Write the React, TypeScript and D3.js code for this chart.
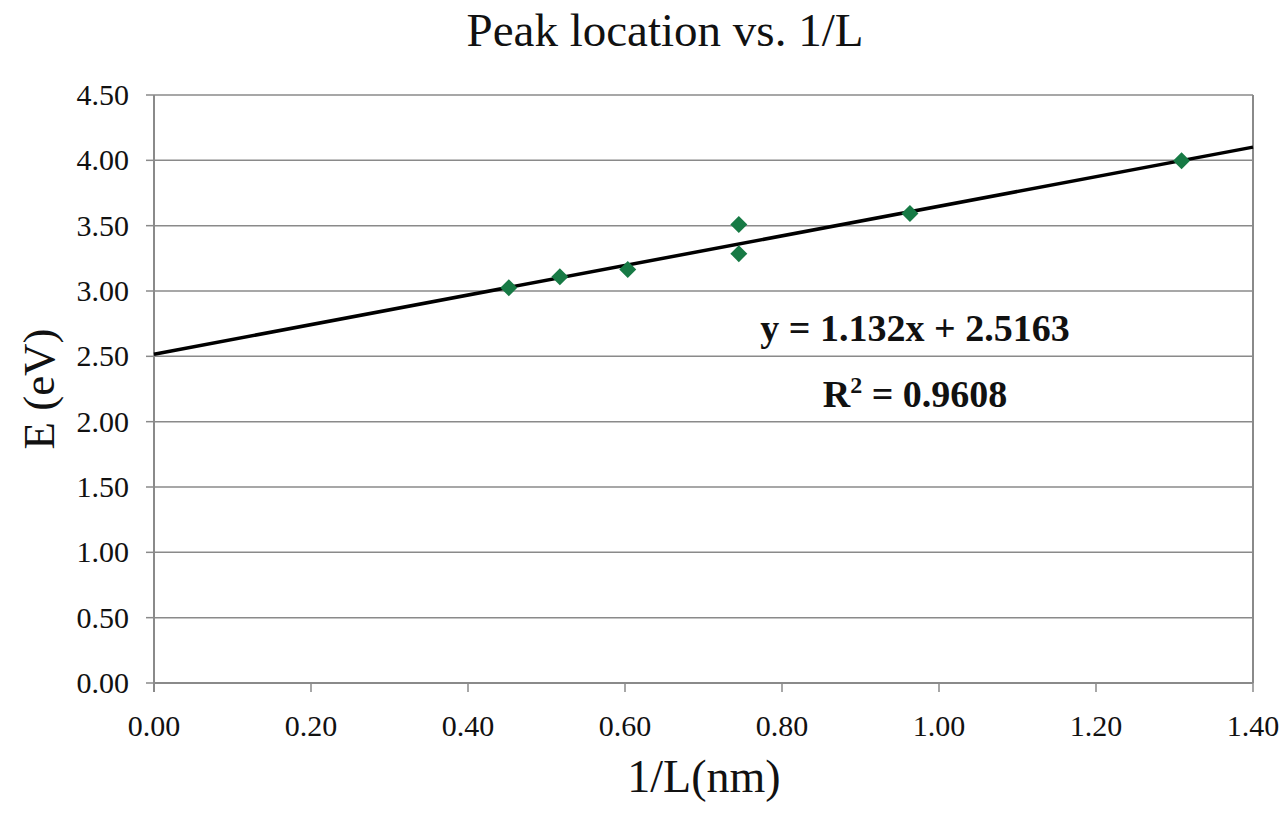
import React from "react";
import * as d3 from "d3";

const xValues = [0.452, 0.517, 0.6035, 0.745, 0.745, 0.963, 1.309];
const yValues = [3.025, 3.109, 3.165, 3.508, 3.286, 3.594, 3.997];
const xTicks = [0, 0.2, 0.4, 0.6, 0.8, 1.0, 1.2, 1.4];
const yTicks = [0, 0.5, 1.0, 1.5, 2.0, 2.5, 3.0, 3.5, 4.0, 4.5];
const slope = 1.132;
const intercept = 2.5163;
const title = "Peak location vs. 1/L";
const xTitle = "1/L(nm)";
const yTitle = "E (eV)";
const eqText = "y = 1.132x + 2.5163";
const r2Value = "0.9608";

const W = 1286;
const H = 816;
const left = 154;
const right = 1253;
const top = 95;
const bottom = 683;
const font = "'Liberation Serif', 'Times New Roman', serif";

export default function App() {
  const x = d3.scaleLinear().domain([0, 1.4]).range([left, right]);
  const y = d3.scaleLinear().domain([0, 4.5]).range([bottom, top]);
  const line = d3
    .line<number>()
    .x((d) => x(d))
    .y((d) => y(slope * d + intercept));
  const r = 8.5;
  const diamond = `M0,${-r}L${r},0L0,${r}L${-r},0Z`;
  const pts = xValues.map((v, i) => [v, yValues[i]]);

  return (
    <svg
      width={W}
      height={H}
      style={{ position: "absolute", left: 0, top: 0, background: "#fff" }}
    >
      <rect x={0} y={0} width={W} height={H} fill="#fff" />
      <text x={665} y={46} textAnchor="middle" fontFamily={font} fontSize={47} fill="#111">
        {title}
      </text>
      {yTicks.map((t) => (
        <g key={"y" + t}>
          <line x1={left} x2={right} y1={y(t)} y2={y(t)} stroke="#8a8a8a" strokeWidth={1.5} />
          <line x1={left - 8} x2={left} y1={y(t)} y2={y(t)} stroke="#8a8a8a" strokeWidth={1.5} />
          <text x={129} y={y(t) + 10} textAnchor="end" fontFamily={font} fontSize={30} fill="#111">
            {t.toFixed(2)}
          </text>
        </g>
      ))}
      {xTicks.map((t) => (
        <g key={"x" + t}>
          <line x1={x(t)} x2={x(t)} y1={bottom} y2={bottom + 9} stroke="#8a8a8a" strokeWidth={1.5} />
          <text x={x(t)} y={736} textAnchor="middle" fontFamily={font} fontSize={30} fill="#111">
            {t.toFixed(2)}
          </text>
        </g>
      ))}
      <line x1={left} x2={left} y1={top} y2={bottom + 9} stroke="#8a8a8a" strokeWidth={2} />
      <line x1={right} x2={right} y1={top} y2={bottom} stroke="#8a8a8a" strokeWidth={2} />
      <line x1={left} x2={right} y1={bottom} y2={bottom} stroke="#8a8a8a" strokeWidth={2} />
      <path d={line([0, 1.4]) || ""} stroke="#000" strokeWidth={3.5} fill="none" />
      {pts.map((p, i) => (
        <path key={i} d={diamond} transform={`translate(${x(p[0])},${y(p[1])})`} fill="#177a45" />
      ))}
      <text x={915} y={341} textAnchor="middle" fontFamily={font} fontWeight="bold" fontSize={38} fill="#111">
        {eqText}
      </text>
      <text x={915} y={407} textAnchor="middle" fontFamily={font} fontWeight="bold" fontSize={38} fill="#111">
        R<tspan dy={-14} fontSize={24}>2</tspan>
        <tspan dy={14}>{" = " + r2Value}</tspan>
      </text>
      <text x={704} y={792} textAnchor="middle" fontFamily={font} fontSize={46} fill="#111">
        {xTitle}
      </text>
      <text
        transform={`translate(54,${(top + bottom) / 2}) rotate(-90)`}
        textAnchor="middle"
        fontFamily={font}
        fontSize={45}
        fill="#111"
      >
        {yTitle}
      </text>
    </svg>
  );
}
